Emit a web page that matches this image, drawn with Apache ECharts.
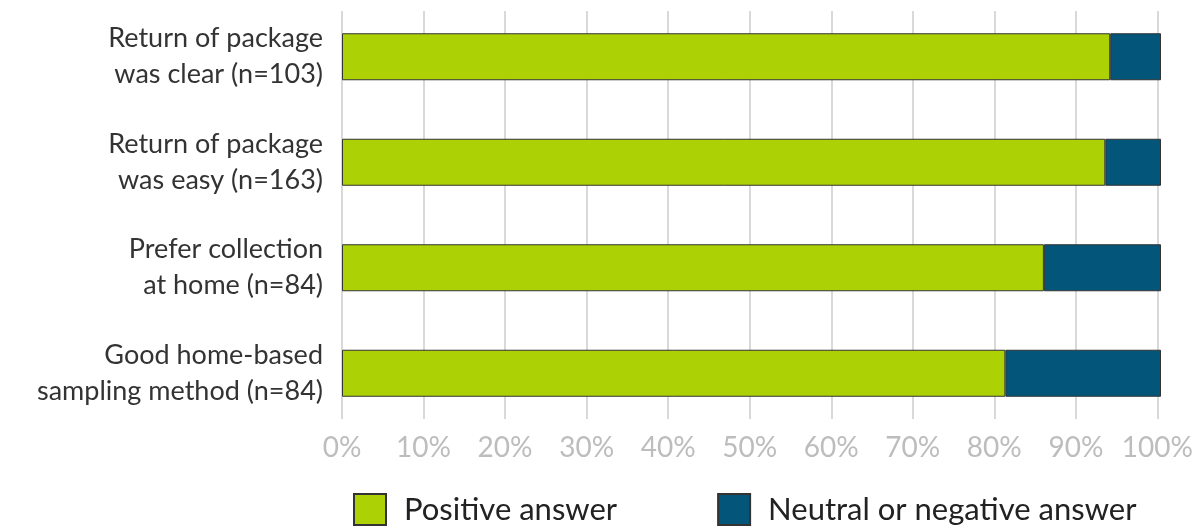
<!DOCTYPE html>
<html>
<head>
<meta charset="utf-8">
<script src="https://cdn.jsdelivr.net/npm/echarts@6/dist/echarts.min.js"></script>
<style>html,body{margin:0;padding:0;background:#fff;}#c{width:1196px;height:526px;}</style>
</head>
<body>
<div id="c"></div>
<script>
const categories = [
  'Return of package\nwas clear (n=103)',
  'Return of package\nwas easy (n=163)',
  'Prefer collection\nat home (n=84)',
  'Good home-based\nsampling method (n=84)'
];
const seriesNames = ['Positive answer', 'Neutral or negative answer'];
const positive = [93.8, 93.2, 85.7, 81.0];
const neutral = [6.2, 6.8, 14.3, 19.0];
const xTicks = [0, 10, 20, 30, 40, 50, 60, 70, 80, 90, 100];

const FONT = 'Lato';
const chart = echarts.init(document.getElementById('c'), null, {renderer: 'canvas'});
chart.setOption({
  animation: false,
  backgroundColor: '#fff',
  textStyle: {fontFamily: FONT},
  grid: [
    {left: 342, right: 35, top: 4, bottom: 100},
    {left: 342, right: 35, top: 11, bottom: 107}
  ],
  legend: {
    data: seriesNames,
    left: 353,
    top: 493,
    padding: 0,
    itemWidth: 32,
    itemHeight: 31,
    itemGap: 100,
    icon: 'rect',
    textStyle: {fontSize: 31, lineHeight: 31, color: '#222', fontFamily: FONT, padding: [0, 0, 0, 13]}
  },
  xAxis: [
    {gridIndex: 0, type: 'value', min: 0, max: 100, show: false},
    {
      gridIndex: 1, type: 'value', min: xTicks[0], max: xTicks[xTicks.length - 1], interval: 10,
      axisLine: {show: false}, axisTick: {show: false},
      splitLine: {show: true, lineStyle: {color: '#d9d9d9', width: 2}},
      axisLabel: {formatter: '{value}%', color: '#bdbdbd', fontSize: 28, margin: 15, fontFamily: FONT}
    }
  ],
  yAxis: [
    {
      gridIndex: 0, type: 'category', data: categories, inverse: true,
      axisLine: {show: false}, axisTick: {show: false},
      axisLabel: {color: '#333', fontSize: 27, lineHeight: 36, margin: 19, align: 'right', fontFamily: FONT}
    },
    {gridIndex: 1, type: 'category', data: categories, show: false}
  ],
  series: [
    {
      name: seriesNames[0], type: 'bar', stack: 'total', xAxisIndex: 0, yAxisIndex: 0,
      data: positive, barWidth: 47,
      itemStyle: {color: '#acd206', borderColor: '#333', borderWidth: 1}
    },
    {
      name: seriesNames[1], type: 'bar', stack: 'total', xAxisIndex: 0, yAxisIndex: 0,
      data: neutral, barWidth: 47,
      itemStyle: {color: '#03557a', borderColor: '#333', borderWidth: 1}
    }
  ]
});
</script>
</body>
</html>
